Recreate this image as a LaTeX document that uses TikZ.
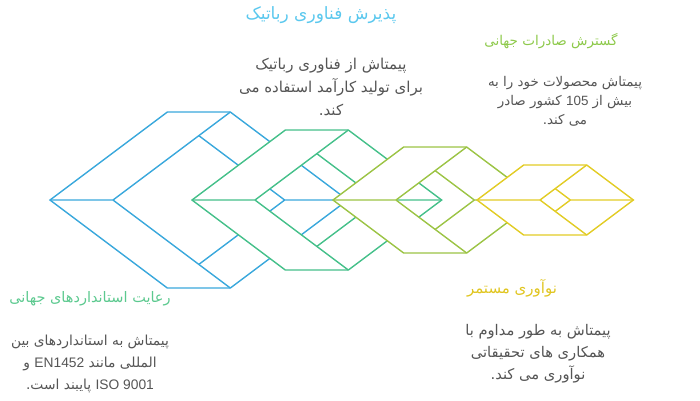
\documentclass[tikz,border=0pt]{standalone}
\usepackage{fontspec}
\usepackage{tikz}
\TeXXeTstate=1
\newfontfamily\farsi[Script=Arabic]{DejaVu Sans}
\newfontfamily\latin{Liberation Sans}
\definecolor{cubeblue}{HTML}{3AA8DC}
\definecolor{cubegreen}{HTML}{45C08A}
\definecolor{cubelime}{HTML}{9CC445}
\definecolor{cubeyellow}{HTML}{E2CC25}
\definecolor{headblue}{HTML}{5BC8EE}
\definecolor{headgreen}{HTML}{5CC98F}
\definecolor{headlime}{HTML}{8DC94A}
\definecolor{headyellow}{HTML}{E0C520}
\definecolor{bodygray}{HTML}{555555}

% one chevron cube: colour, left tip x, half height
\newcommand{\chevcube}[3]{%
  \pgfmathsetmacro{\cL}{#2}
  \pgfmathsetmacro{\cM}{#2+63}
  \pgfmathsetmacro{\cTL}{#2+#3*4/3}
  \pgfmathsetmacro{\cTR}{#2+63+#3*4/3}
  \pgfmathsetmacro{\cR}{#2+63+#3*8/3}
  \pgfmathsetmacro{\cN}{#2+#3*8/3}
  \pgfmathsetmacro{\cT}{#2+31.5+#3*4/3}
  \pgfmathsetmacro{\cTy}{#3-23.625}
  \fill[white] (\cL,200) -- (\cTL,200-#3) -- (\cTR,200-#3) -- (\cM,200)
    -- (\cTR,200+#3) -- (\cTL,200+#3) -- cycle;
  \draw[#1] (\cL,200) -- (\cTL,200-#3) -- (\cTR,200-#3) -- (\cR,200)
    -- (\cTR,200+#3) -- (\cTL,200+#3) -- cycle;
  \draw[#1] (\cL,200) -- (\cM,200) (\cTR,200-#3) -- (\cM,200) -- (\cTR,200+#3);
  \draw[#1] (\cR,200) -- (\cN,200) (\cT,200-\cTy) -- (\cN,200) -- (\cT,200+\cTy);
}
\newcommand{\rl}[1]{\beginR #1\endR}

\begin{document}
\begin{tikzpicture}[x=1pt, y=-1pt, line width=1.4pt,
             every node/.style={inner sep=0pt, align=center},
             headtext/.style={font=\farsi\fontsize{14.5}{16}\selectfont},
             bodytext/.style={text=bodygray, font=\farsi\fontsize{14}{22}\selectfont}]
\useasboundingbox (0,0) rectangle (700,400);

\chevcube{cubeblue}{50}{88}
\chevcube{cubegreen}{192}{70}
\chevcube{cubelime}{333}{53}
\chevcube{cubeyellow}{477}{35}

\node[headtext, text=headblue, font=\farsi\fontsize{17}{18}\selectfont] (robothead) at (321,15)
  {\rl{پذیرش فناوری رباتیک}};
\node[bodytext, font=\farsi\fontsize{15}{23}\selectfont] (robotbody) at (331,87)
  {\rl{پیمتاش از فناوری رباتیک}\\\rl{برای تولید کارآمد استفاده می}\\\rl{کند.}};

\node[headtext, text=headlime, font=\farsi\fontsize{13.5}{16}\selectfont] (exporthead) at (551,41)
  {\rl{گسترش صادرات جهانی}};
\node[bodytext, font=\farsi\fontsize{13.4}{19}\selectfont] (exportbody) at (565,101)
  {\rl{پیمتاش محصولات خود را به}\\\rl{بیش از {\latin 105} کشور صادر}\\\rl{می کند.}};

\node[headtext, text=headgreen] (standhead) at (90,299)
  {\rl{رعایت استانداردهای جهانی}};
\node[bodytext, font=\farsi\fontsize{13.8}{22}\selectfont] (standbody) at (90,364)
  {\rl{پیمتاش به استانداردهای بین}\\\rl{المللی مانند {\latin EN1452} و}\\\rl{\beginL{\latin ISO 9001}\endL{} پایبند است.}};

\node[headtext, text=headyellow, font=\farsi\fontsize{15}{16}\selectfont] (innovhead) at (512,288)
  {\rl{نوآوری مستمر}};
\node[bodytext, font=\farsi\fontsize{14.7}{22}\selectfont] (innovbody) at (538,354)
  {\rl{پیمتاش به طور مداوم با}\\\rl{همکاری های تحقیقاتی}\\\rl{نوآوری می کند.}};

\end{tikzpicture}
\end{document}
